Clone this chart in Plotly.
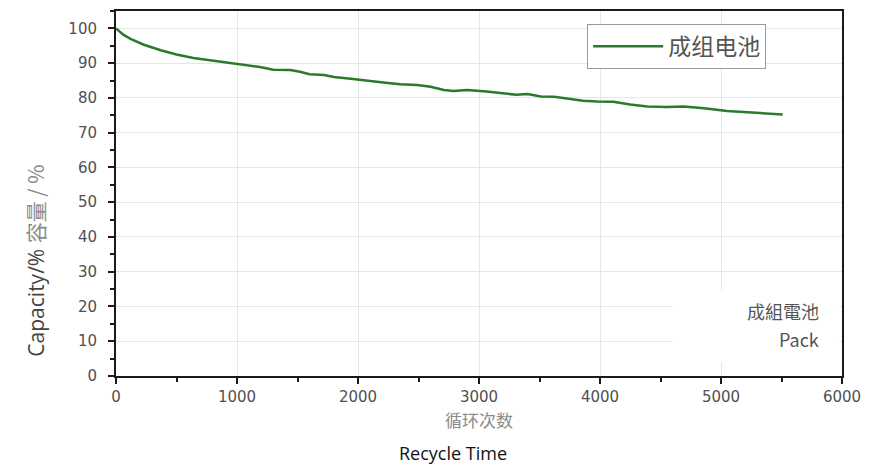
import plotly.graph_objects as go

# Data
cycles = [0, 60, 120, 230, 370, 500, 640, 780, 920, 1060, 1190, 1300, 1440, 1520, 1600,
          1720, 1800, 1940, 2070, 2210, 2350, 2490, 2600, 2710, 2790, 2900, 3040, 3180,
          3310, 3400, 3510, 3620, 3730, 3860, 3980, 4110, 4250, 4390, 4550, 4690, 4860,
          5050, 5220, 5380, 5510]
capacity = [100, 98.2, 97.0, 95.3, 93.7, 92.5, 91.5, 90.8, 90.1, 89.4, 88.9, 88.1, 88.0, 87.5,
            86.8, 86.6, 86.0, 85.5, 84.9, 84.4, 83.9, 83.7, 83.2, 82.3, 82.0, 82.3, 81.9,
            81.3, 80.9, 81.1, 80.4, 80.3, 79.8, 79.2, 79.0, 78.9, 78.1, 77.5, 77.4, 77.5,
            77.0, 76.2, 75.9, 75.5, 75.2]
series_name = "成组电池"
x_ticks = [0, 1000, 2000, 3000, 4000, 5000, 6000]
y_ticks = [0, 10, 20, 30, 40, 50, 60, 70, 80, 90, 100]

fig = go.Figure()
fig.add_trace(go.Scatter(
    x=cycles, y=capacity, mode="lines", name=series_name,
    line=dict(color="#2b7a2b", width=2.5),
))

tick_font = dict(family="DejaVu Sans", size=15, color="#505050")
axis_common = dict(
    showline=True, linecolor="#1a1a1a", linewidth=2, mirror=True,
    ticks="outside", ticklen=6, tickwidth=2, tickcolor="#1a1a1a",
    showgrid=True, gridcolor="#e6e6e6", gridwidth=1,
    zeroline=False, tickfont=tick_font,
)

fig.update_layout(
    width=871, height=458,
    margin=dict(l=108, r=37, t=1, b=90),
    paper_bgcolor="white", plot_bgcolor="white",
    showlegend=True,
    legend=dict(
        x=0.649, y=0.965, xanchor="left", yanchor="top",
        bordercolor="#9a9a9a", borderwidth=1, bgcolor="white",
        font=dict(family="Noto Sans CJK SC", size=23, color="#555555"),
        itemwidth=70,
    ),
    xaxis=dict(
        range=[0, 6000], tickvals=x_ticks, ticklabelstandoff=0,
        minor=dict(dtick=500, ticks="outside", ticklen=4, tickwidth=2,
                   tickcolor="#1a1a1a", showgrid=False),
        title=dict(text="循环次数", standoff=10,
                   font=dict(family="Noto Sans CJK SC", size=17, color="#8a8a8a")),
        **axis_common,
    ),
    yaxis=dict(
        range=[0, 105], tickvals=y_ticks, ticklabelstandoff=8,
        minor=dict(dtick=5, ticks="outside", ticklen=4, tickwidth=2,
                   tickcolor="#1a1a1a", showgrid=False),
        **axis_common,
    ),
)

# white patch over the grid in lower-right corner (as in the reference)
fig.add_shape(type="rect", xref="x", yref="y", x0=4600, x1=5975, y0=4, y1=24.7,
              fillcolor="white", line=dict(width=0), layer="between")

note_font = dict(family="Noto Sans CJK TC", size=18, color="#555555")
fig.add_annotation(
    xref="x", yref="y", x=5821, y=14.55, xanchor="right", yanchor="bottom",
    showarrow=False, text="成組電池", font=note_font, borderpad=0,
)
fig.add_annotation(
    xref="x", yref="y", x=5821, y=14.55, xanchor="right", yanchor="top",
    showarrow=False, text="Pack", font=note_font, borderpad=0,
)

fig.add_annotation(
    xref="paper", yref="paper", x=-0.1116, y=0.316, xanchor="center", yanchor="middle",
    textangle=-90, showarrow=False,
    text="Capacity/% <span style='font-family:Noto Sans CJK SC;color:#8a8a8a'>容量 / %</span>",
    font=dict(family="Open Sans", size=21, color="#444444"),
)

fig.add_annotation(
    xref="paper", yref="paper", x=0.464, y=-0.21, xanchor="center", yanchor="middle",
    showarrow=False, text="Recycle Time",
    font=dict(family="Open Sans", size=18, color="#111111"),
)

fig.write_html("out.html")
